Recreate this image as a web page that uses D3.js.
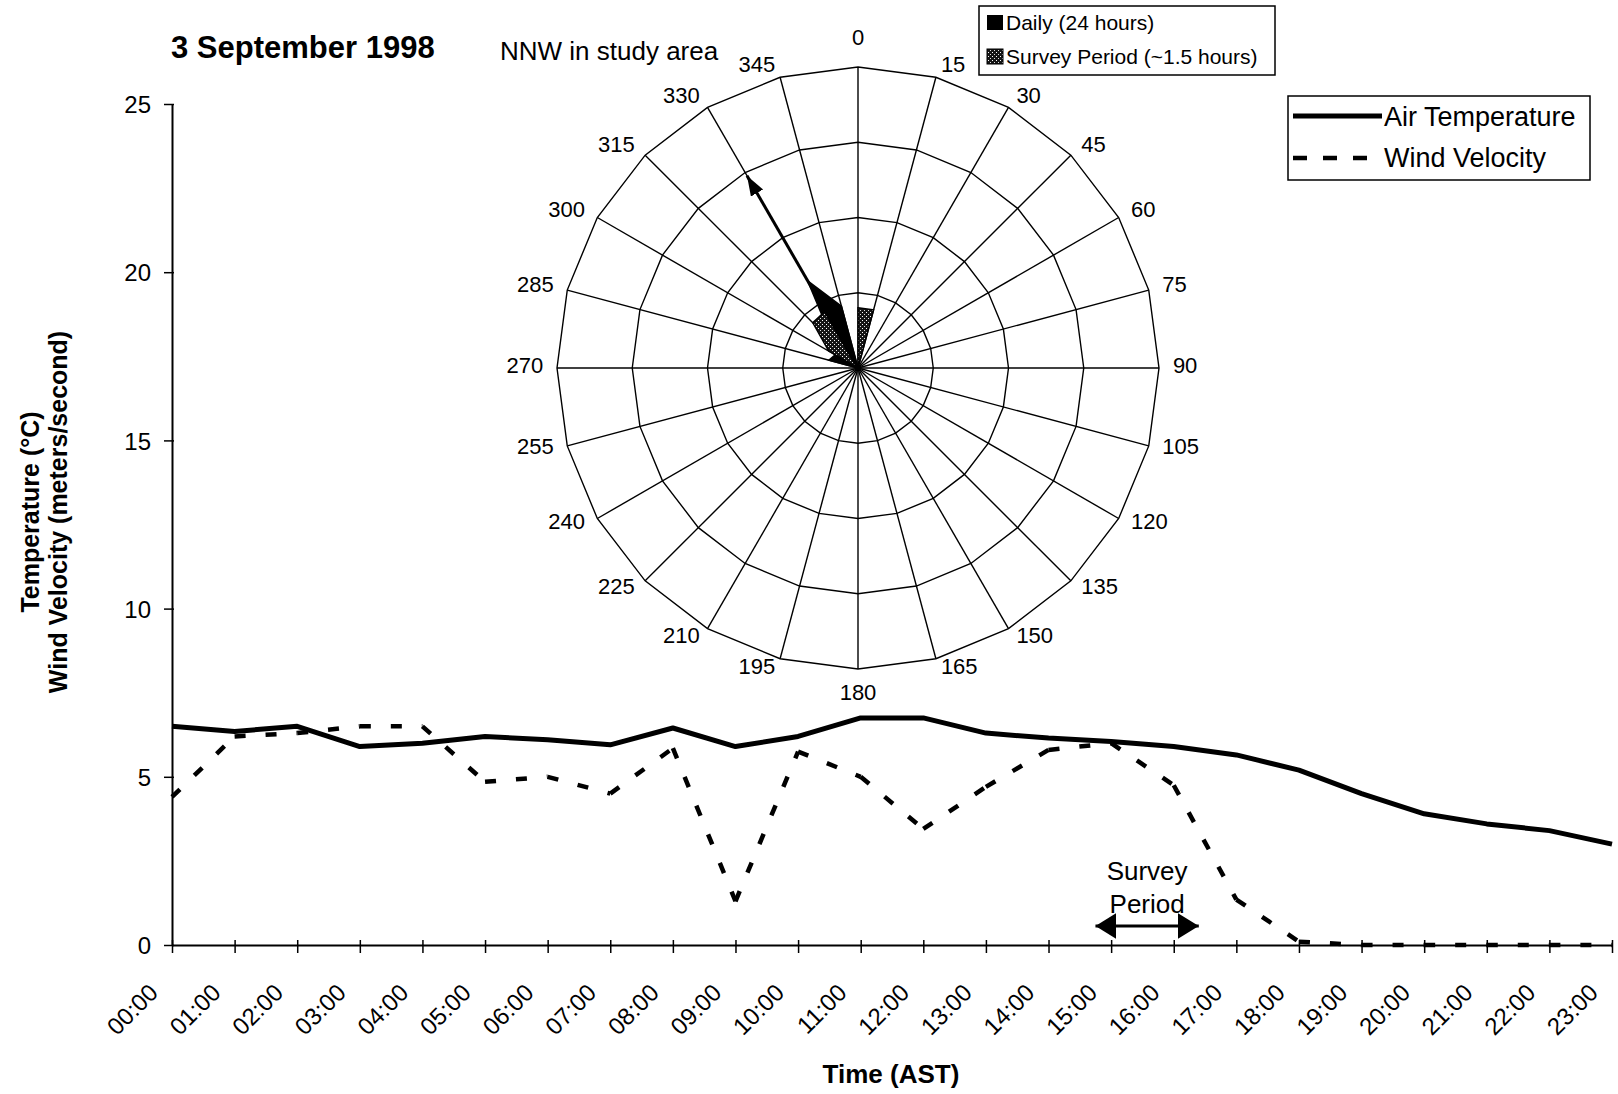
<!DOCTYPE html>
<html>
<head>
<meta charset="utf-8">
<script src="https://cdnjs.cloudflare.com/ajax/libs/d3/7.8.5/d3.min.js"></script>
<style>
    body { margin: 0; background: #fff; }
    svg text { font-family: "Liberation Sans", Arial, sans-serif; fill: #000; }
</style>
</head>
<body>
<svg id="canvas" width="1618" height="1094"></svg>
<script>
// hourly data, 3 September 1998
let hours = ["00:00", "01:00", "02:00", "03:00", "04:00", "05:00", "06:00", "07:00",
             "08:00", "09:00", "10:00", "11:00", "12:00", "13:00", "14:00", "15:00",
             "16:00", "17:00", "18:00", "19:00", "20:00", "21:00", "22:00", "23:00"];
let airTemperature = [6.5, 6.35, 6.5, 5.9, 6.0, 6.2, 6.1, 5.95, 6.45, 5.9, 6.2, 6.75,
                      6.75, 6.3, 6.15, 6.05, 5.9, 5.65, 5.2, 4.5, 3.9, 3.6, 3.4, 3.0];
let windVelocity = [4.4, 6.2, 6.3, 6.5, 6.5, 4.85, 5.0, 4.5, 5.85, 1.3, 5.75, 5.0,
                    3.45, 4.7, 5.8, 6.0, 4.75, 1.35, 0.1, 0, 0, 0, 0, 0];
let yTicks = [0, 5, 10, 15, 20, 25];

// wind rose (radar) data
let directions = [0, 15, 30, 45, 60, 75, 90, 105, 120, 135, 150, 165,
                  180, 195, 210, 225, 240, 255, 270, 285, 300, 315, 330, 345];
let dailyWind  = [0, 0, 0, 0, 0, 0, 0, 0, 0, 0, 0, 0,
                  0, 0, 0, 0, 0, 0, 0, 0.4, 0.35, 0.45, 1.34, 0.85];
let surveyWind = [0.8, 0.8, 0, 0, 0, 0, 0, 0, 0, 0, 0, 0,
                  0, 0, 0, 0, 0, 0, 0, 0, 0.45, 0.85, 0.87, 0];
let ringValues = [1, 2, 3, 4];
let prevailing = { direction: 330, value: 2.95 };

// survey period marker (hours)
let surveyPeriod = [14.75, 16.4];

let canvas = d3.select("#canvas");

let xScale = d3.scaleLinear().domain([0, 23]).range([172, 1612]);
let yScale = d3.scaleLinear().domain([0, 25]).range([945, 104]);

let defs = canvas.append("defs");

// stipple fill for the survey period series
let stipple = defs.append("pattern")
    .attr("id", "stipple")
    .attr("width", 4).attr("height", 4)
    .attr("patternUnits", "userSpaceOnUse");
stipple.append("rect").attr("width", 4).attr("height", 4).attr("fill", "#151515");
stipple.append("rect").attr("x", 0).attr("y", 0).attr("width", 1).attr("height", 1).attr("fill", "#fff");
stipple.append("rect").attr("x", 2).attr("y", 2).attr("width", 1).attr("height", 1).attr("fill", "#ddd");

defs.append("marker")
    .attr("id", "windArrow")
    .attr("markerUnits", "userSpaceOnUse")
    .attr("markerWidth", 22).attr("markerHeight", 16)
    .attr("refX", 20).attr("refY", 7)
    .attr("orient", "auto")
    .append("path")
    .attr("d", "M0,0 L20,7 L0,14 Z")
    .attr("fill", "#000");

defs.append("marker")
    .attr("id", "spanArrow")
    .attr("markerUnits", "userSpaceOnUse")
    .attr("markerWidth", 24).attr("markerHeight", 28)
    .attr("refX", 21).attr("refY", 13)
    .attr("orient", "auto-start-reverse")
    .append("path")
    .attr("d", "M0,0 L21,13 L0,26 Z")
    .attr("fill", "#000");

let drawAxes = () => {
    let yAxis = d3.axisLeft(yScale)
        .tickValues(yTicks)
        .tickSizeInner(8)
        .tickSizeOuter(0)
        .tickPadding(13);

    let gy = canvas.append("g")
        .attr("transform", "translate(" + xScale(0) + ",0)")
        .call(yAxis);
    gy.select(".domain").attr("stroke", "#000").attr("stroke-width", 2);
    gy.selectAll(".tick line").attr("x1", 2).attr("stroke-width", 1.5);
    gy.selectAll(".tick text")
        .style("font-size", "24px")
        .attr("dy", "0.36em");

    let xAxis = d3.axisBottom(xScale)
        .tickValues(d3.range(hours.length))
        .tickFormat(i => hours[i])
        .tickSizeInner(8)
        .tickSizeOuter(0);

    let gx = canvas.append("g")
        .attr("transform", "translate(0," + yScale(0) + ")")
        .call(xAxis);
    gx.select(".domain").attr("stroke", "#000").attr("stroke-width", 2);
    gx.selectAll(".tick line").attr("y1", -5).attr("stroke-width", 1.5);
    gx.selectAll(".tick text")
        .style("font-size", "24px")
        .attr("text-anchor", "end")
        .attr("x", 0).attr("y", 0).attr("dy", 0)
        .attr("transform", "translate(-13,49) rotate(-45)");

    // axis titles
    let yTitle = canvas.append("g")
        .attr("transform", "translate(0,512) rotate(-90)")
        .style("font-weight", "bold")
        .style("font-size", "25px")
        .attr("text-anchor", "middle");
    yTitle.append("text").attr("x", 0).attr("y", 39).text("Temperature (\u00B0C)");
    yTitle.append("text").attr("x", 0).attr("y", 67).text("Wind Velocity (meters/second)");

    canvas.append("text")
        .attr("x", 891).attr("y", 1083)
        .attr("text-anchor", "middle")
        .style("font-weight", "bold")
        .style("font-size", "26px")
        .text("Time (AST)");
};

let drawLines = () => {
    let line = d3.line()
        .x(d => xScale(d.i))
        .y(d => yScale(d.v));

    let temp = airTemperature.map((v, i) => ({ i: i, v: v }));
    canvas.append("path")
        .datum(temp)
        .attr("d", line)
        .attr("fill", "none")
        .attr("stroke", "#000")
        .attr("stroke-width", 5)
        .attr("stroke-linejoin", "round");

    // dash pattern restarts on each segment, like the spreadsheet renderer
    let wind = windVelocity.map((v, i) => ({ i: i, v: v }));
    canvas.append("g")
        .selectAll("path")
        .data(d3.pairs(wind))
        .enter()
        .append("path")
        .attr("d", d => line(d))
        .attr("fill", "none")
        .attr("stroke", "#000")
        .attr("stroke-width", 4.5)
        .attr("stroke-dasharray", "11,20");
};

let drawRose = () => {
    let cx = 858, cy = 368;
    let rScale = d3.scaleLinear().domain([0, 4]).range([0, 301]);
    let rad = d => d * Math.PI / 180;

    let rose = canvas.append("g").attr("transform", "translate(" + cx + "," + cy + ")");

    let radar = d3.lineRadial()
        .angle(d => rad(d.dir))
        .radius(d => rScale(d.v))
        .curve(d3.curveLinearClosed);

    // polygon rings
    rose.selectAll(".ring")
        .data(ringValues)
        .enter()
        .append("path")
        .attr("class", "ring")
        .attr("d", ring => radar(directions.map(dir => ({ dir: dir, v: ring }))))
        .attr("fill", "none")
        .attr("stroke", "#000")
        .attr("stroke-width", 1.4);

    // spokes
    rose.selectAll(".spoke")
        .data(directions)
        .enter()
        .append("line")
        .attr("class", "spoke")
        .attr("x1", 0).attr("y1", 0)
        .attr("x2", d => rScale(4) * Math.sin(rad(d)))
        .attr("y2", d => -rScale(4) * Math.cos(rad(d)))
        .attr("stroke", "#000")
        .attr("stroke-width", 1.4);

    // labels sit beside the outer vertex, pushed sideways by their own width
    let outer = rScale(4);
    rose.selectAll(".dirLabel")
        .data(directions)
        .enter()
        .append("text")
        .attr("class", "dirLabel")
        .attr("text-anchor", "middle")
        .attr("dy", "0.36em")
        .style("font-size", "22px")
        .text(d => d)
        .each(function(d) {
            let s = Math.sin(rad(d)), c = Math.cos(rad(d));
            let vx = outer * s, vy = -outer * c;
            let halfW = this.getComputedTextLength() / 2;
            let lx, ly;
            if (Math.abs(s) < 0.01) {
                lx = vx;
                ly = c > 0 ? vy - 29.5 : vy + 23.5;
            } else {
                lx = vx + Math.sign(s) * (halfW + 5 + 12 * (Math.abs(s) - 0.26));
                ly = vy - c * 11 - 3;
            }
            d3.select(this).attr("x", lx).attr("y", ly);
        });

    rose.append("path")
        .attr("d", radar(directions.map((dir, i) => ({ dir: dir, v: dailyWind[i] }))))
        .attr("fill", "#000")
        .attr("stroke", "#000")
        .attr("stroke-width", 1.5);

    rose.append("path")
        .attr("d", radar(directions.map((dir, i) => ({ dir: dir, v: surveyWind[i] }))))
        .attr("fill", "url(#stipple)")
        .attr("stroke", "#000")
        .attr("stroke-width", 1.5);

    let tipR = rScale(prevailing.value);
    rose.append("line")
        .attr("x1", 0).attr("y1", 0)
        .attr("x2", tipR * Math.sin(rad(prevailing.direction)))
        .attr("y2", -tipR * Math.cos(rad(prevailing.direction)))
        .attr("stroke", "#000")
        .attr("stroke-width", 3)
        .attr("marker-end", "url(#windArrow)");
};

let drawLegends = () => {
    // wind rose legend
    let rl = canvas.append("g");
    rl.append("rect")
        .attr("x", 979).attr("y", 6).attr("width", 296).attr("height", 69)
        .attr("fill", "#fff").attr("stroke", "#000").attr("stroke-width", 1.5);
    rl.append("rect").attr("x", 987).attr("y", 15).attr("width", 16).attr("height", 15).attr("fill", "#000");
    rl.append("rect").attr("x", 987).attr("y", 49).attr("width", 16).attr("height", 15)
        .attr("fill", "url(#stipple)").attr("stroke", "#000").attr("stroke-width", 1);
    rl.append("text").attr("x", 1006).attr("y", 30).style("font-size", "21px").text("Daily (24 hours)");
    rl.append("text").attr("x", 1006).attr("y", 64).style("font-size", "21px").text("Survey Period (~1.5 hours)");

    // line legend
    let ll = canvas.append("g");
    ll.append("rect")
        .attr("x", 1288).attr("y", 96).attr("width", 302).attr("height", 84)
        .attr("fill", "#fff").attr("stroke", "#000").attr("stroke-width", 1.5);
    ll.append("line")
        .attr("x1", 1293).attr("x2", 1382).attr("y1", 116).attr("y2", 116)
        .attr("stroke", "#000").attr("stroke-width", 5);
    ll.append("line")
        .attr("x1", 1293).attr("x2", 1370).attr("y1", 158).attr("y2", 158)
        .attr("stroke", "#000").attr("stroke-width", 4.5).attr("stroke-dasharray", "14,16");
    ll.append("text").attr("x", 1384).attr("y", 126).style("font-size", "27px").text("Air Temperature");
    ll.append("text").attr("x", 1384).attr("y", 167).style("font-size", "27px").text("Wind Velocity");
};

let drawNotes = () => {
    canvas.append("text")
        .attr("x", 171).attr("y", 58)
        .style("font-weight", "bold")
        .style("font-size", "31px")
        .text("3 September 1998");

    canvas.append("text")
        .attr("x", 500).attr("y", 60)
        .style("font-size", "26px")
        .text("NNW in study area");

    let mid = (surveyPeriod[0] + surveyPeriod[1]) / 2;
    canvas.append("text")
        .attr("x", xScale(mid)).attr("y", 880)
        .attr("text-anchor", "middle")
        .style("font-size", "26px")
        .text("Survey");
    canvas.append("text")
        .attr("x", xScale(mid)).attr("y", 913)
        .attr("text-anchor", "middle")
        .style("font-size", "26px")
        .text("Period");

    canvas.append("line")
        .attr("x1", xScale(surveyPeriod[0])).attr("x2", xScale(surveyPeriod[1]))
        .attr("y1", 926).attr("y2", 926)
        .attr("stroke", "#000")
        .attr("stroke-width", 3)
        .attr("marker-start", "url(#spanArrow)")
        .attr("marker-end", "url(#spanArrow)");
};

drawRose();
drawAxes();
drawLines();
drawLegends();
drawNotes();
</script>
</body>
</html>
